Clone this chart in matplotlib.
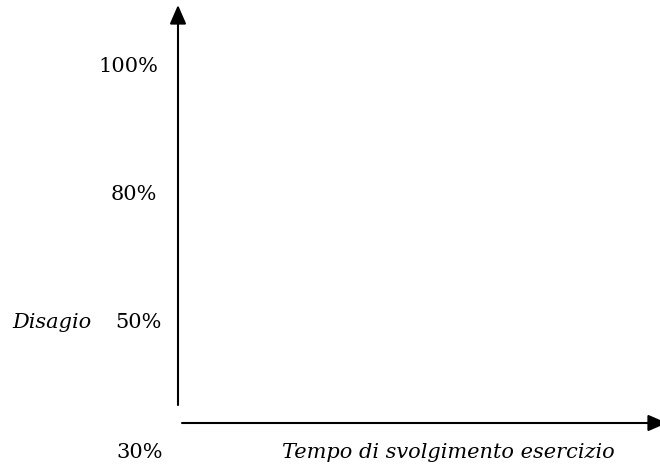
import matplotlib
matplotlib.use("Agg")
import matplotlib.pyplot as plt

# Data (labels only; chart is an empty diagram)
y_tick_labels = ["100%", "80%", "50%", "30%"]
y_axis_label = "Disagio"
x_axis_label = "Tempo di svolgimento esercizio"

# Layout (pixel coordinates in a 660x467 canvas)
tick_label_y = [66, 195, 323, 452]
tick_label_right = [158, 157, 162, 163]

fig = plt.figure(figsize=(6.6, 4.67), dpi=100)
ax = fig.add_axes([0, 0, 1, 1])
ax.set_xlim(0, 660)
ax.set_ylim(467, 0)
ax.axis("off")

serif = ["DejaVu Serif"]
fs = 15

arrow = dict(arrowstyle="-|>,head_length=1.15,head_width=0.5",
             color="black", lw=1.5, shrinkA=0, shrinkB=0,
             mutation_scale=10)
# vertical axis arrow
ax.annotate("", xy=(178, 5), xytext=(178, 405), arrowprops=arrow,
            annotation_clip=False)
# horizontal axis arrow
ax.annotate("", xy=(667, 423), xytext=(182, 423), arrowprops=arrow,
            annotation_clip=False)

for lab, y, xr in zip(y_tick_labels, tick_label_y, tick_label_right):
    ax.text(xr, y, lab, ha="right", va="center", fontsize=fs, family=serif)

ax.text(12, 323, y_axis_label, ha="left", va="center", fontsize=fs,
        family=serif, style="italic")
ax.text(282, 452, x_axis_label, ha="left", va="center", fontsize=fs,
        family=serif, style="italic")

fig.savefig("out.png", dpi=100)
